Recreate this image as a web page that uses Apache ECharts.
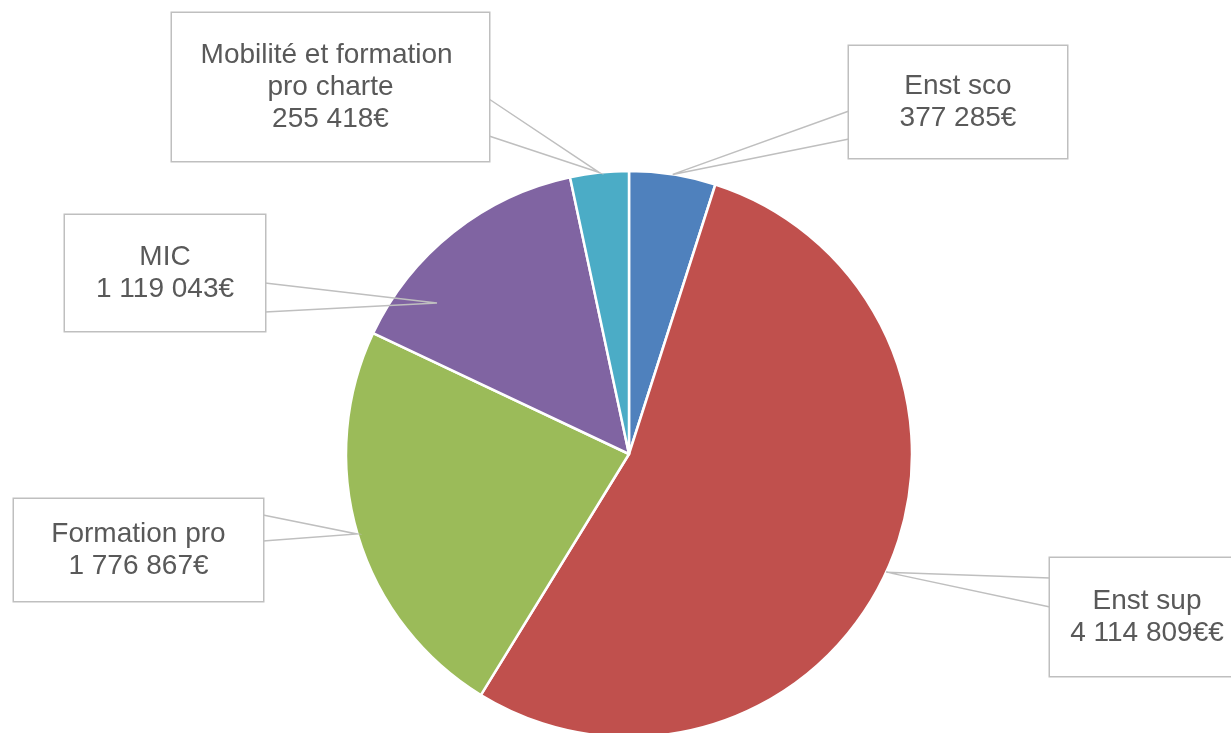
<!DOCTYPE html>
<html>
<head>
<meta charset="utf-8">
<script src="https://cdn.jsdelivr.net/npm/echarts@6/dist/echarts.min.js"></script>
<style>
  html, body { margin: 0; padding: 0; background: #fff; }
  #main { width: 1231px; height: 733px; }
</style>
</head>
<body>
<div id="main"></div>
<script>
// données du graphique
var names = ['Enst sco', 'Enst sup', 'Formation pro', 'MIC', 'Mobilité et formation pro charte'];
var values = [377285, 4114809, 1776867, 1119043, 255418];
var suffixes = ['€', '€€', '€', '€', '€'];
var colors = ['#4F81BD', '#C0504D', '#9BBB59', '#8064A2', '#4BACC6'];

// position des bulles (x, y, largeur, hauteur, base de la pointe)
var callouts = [
  { x: 849, y: 46, w: 218, h: 112, lines: 2, base: [[849, 111], [849, 139]] },
  { x: 1050, y: 558, w: 194, h: 118, lines: 2, base: [[1050, 578], [1050, 607]] },
  { x: 14, y: 499, w: 249, h: 102, lines: 2, base: [[263, 515], [263, 541]], tip: [357, 534] },
  { x: 65, y: 215, w: 200, h: 116, lines: 2, base: [[265, 283], [265, 312]], tip: [437, 303] },
  { x: 172, y: 13, w: 317, h: 148, lines: 3, wrap: true, base: [[489, 99], [489, 136]] }
];

var lineH = 32;
var padX = 12;

function fmt(v) {
  return String(v).replace(/\B(?=(\d{3})+(?!\d))/g, ' ');
}

var sliceData = names.map(function (n, i) {
  return { name: n, value: values[i] };
});

// même découpage, pour dessiner les bulles au-dessus des parts
var labelData = names.map(function (n, i) {
  var c = callouts[i];
  var padY = (c.h - c.lines * lineH) / 2;
  return {
    name: n,
    value: values[i],
    label: {
      width: c.w - 2 * padX,
      overflow: c.wrap ? 'break' : 'none',
      padding: [padY + 1, padX, padY - 1, padX]
    }
  };
});

var myChart = echarts.init(document.getElementById('main'));
var option = {
  animation: false,
  color: colors,
  series: [
    {
      type: 'pie',
      center: [629, 454],
      radius: 283,
      startAngle: 90,
      clockwise: true,
      silent: true,
      itemStyle: { borderColor: '#fff', borderWidth: 2.5 },
      label: { show: false },
      labelLine: { show: false },
      data: sliceData
    },
    {
      type: 'pie',
      z: 5,
      center: [629, 454],
      radius: 283,
      startAngle: 90,
      clockwise: true,
      silent: true,
      avoidLabelOverlap: false,
      itemStyle: { color: 'rgba(0,0,0,0)', borderWidth: 0 },
      label: {
        show: true,
        position: 'outside',
        formatter: function (p) {
          return p.name + '\n' + fmt(p.value) + suffixes[p.dataIndex];
        },
        fontFamily: 'Liberation Sans, Arial, sans-serif',
        fontSize: 28,
        lineHeight: lineH,
        color: '#595959',
        align: 'center',
        backgroundColor: '#fff',
        borderColor: '#BFBFBF',
        borderWidth: 1.5
      },
      labelLine: {
        show: true,
        lineStyle: { color: '#BFBFBF', width: 1.5 }
      },
      labelLayout: function (params) {
        var c = callouts[params.dataIndex];
        var tip = c.tip || (params.labelLinePoints && params.labelLinePoints[0]);
        return {
          x: c.x + c.w / 2,
          y: c.y + c.h / 2,
          align: 'center',
          verticalAlign: 'middle',
          labelLinePoints: [c.base[0], tip, c.base[1]]
        };
      },
      data: labelData
    }
  ]
};
myChart.setOption(option);
</script>
</body>
</html>
